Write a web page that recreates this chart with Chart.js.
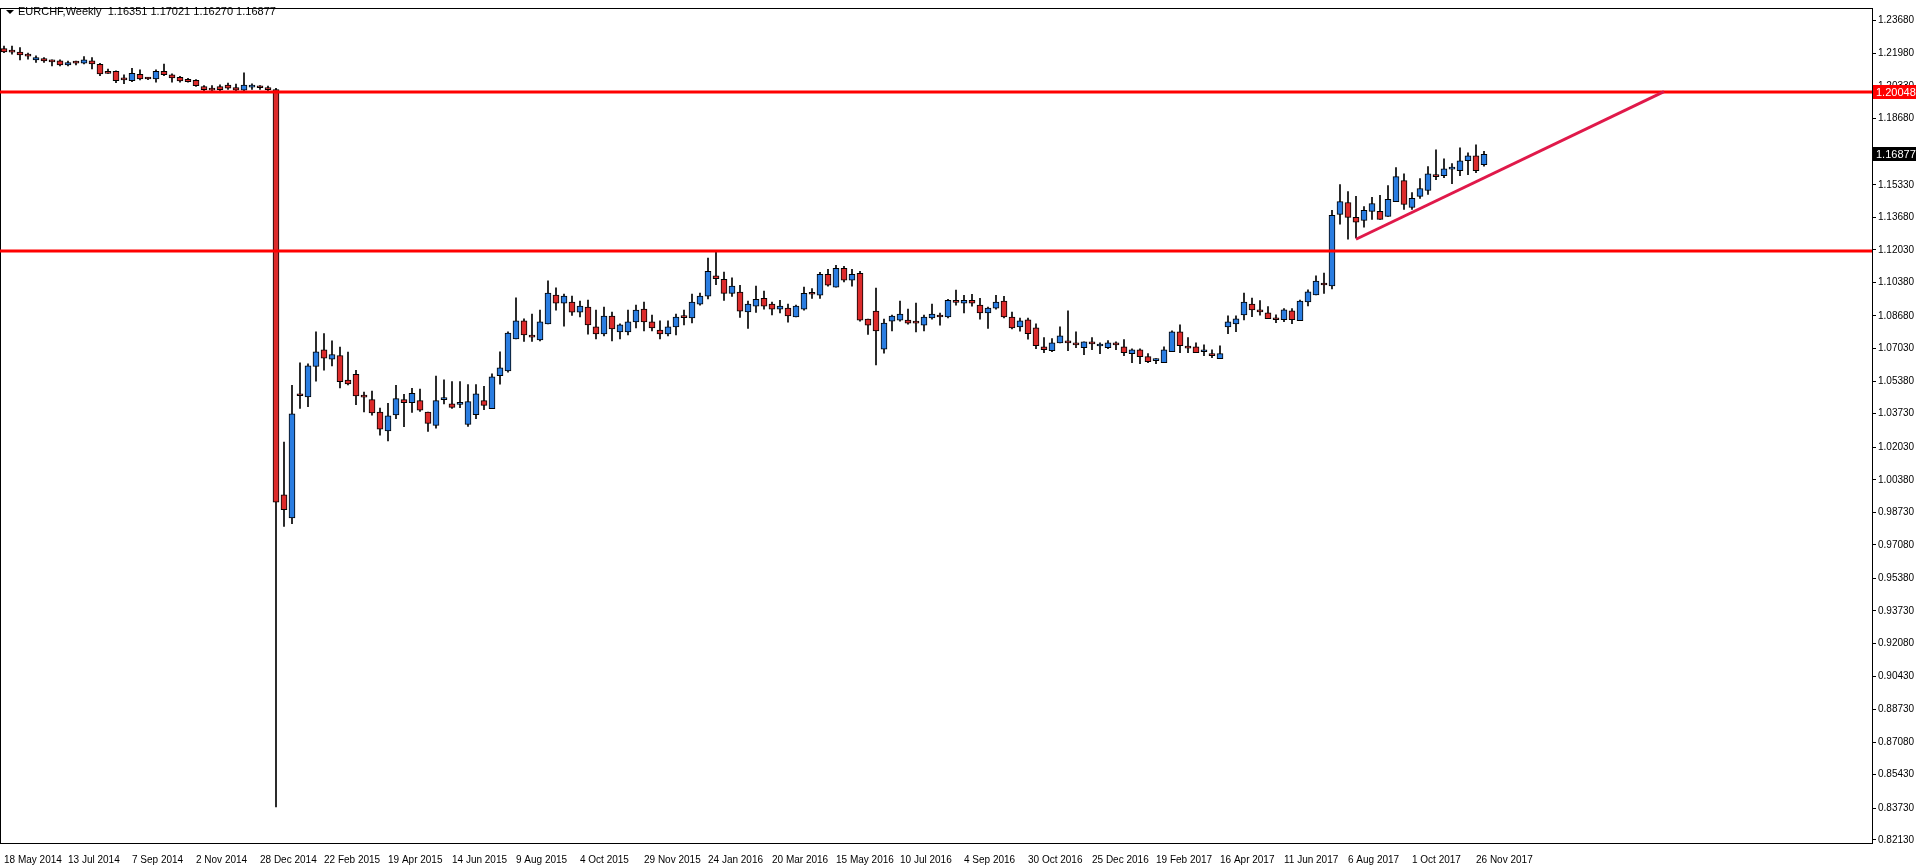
<!DOCTYPE html>
<html>
<head>
<meta charset="utf-8">
<script src="https://cdn.jsdelivr.net/npm/chart.js@4"></script>
<style>
  html, body { margin: 0; padding: 0; background: #fff; }
  #wrap { width: 1916px; height: 866px; position: relative; }
</style>
</head>
<body>
<div id="wrap"><canvas id="myChart"></canvas></div>
<script>
// weekly EURCHF candles, 18 May 2014 .. 3 Dec 2017
const opens = [
  1.2223,1.2206,1.2206,1.2186,1.2166,1.2173,1.2161,1.2161,1.2141,1.2151,
  1.2150,1.2161,1.2143,1.2100,1.2108,1.2066,1.2061,1.2093,1.2070,1.2070,
  1.2108,1.2090,1.2078,1.2068,1.2063,1.2031,1.2021,1.2031,1.2038,1.2026,
  1.2013,1.2028,1.2026,1.2023,1.2015,0.9962,0.9844,1.0466,1.0458,1.0612,
  1.0697,1.0649,1.0668,1.0543,1.0572,1.0458,1.0444,1.0381,1.0285,1.0367,
  1.0444,1.0429,1.0439,1.0381,1.0314,1.0444,1.0423,1.0420,1.0318,1.0368,
  1.0439,1.0398,1.0566,1.0590,1.0752,1.0843,1.0762,1.0747,1.0828,1.0974,
  1.0933,1.0938,1.0888,1.0913,1.0813,1.0777,1.0868,1.0787,1.0787,1.0838,
  1.0903,1.0838,1.0797,1.0777,1.0813,1.0861,1.0858,1.0928,1.0969,1.1071,
  1.1054,1.0983,1.0989,1.0889,1.0918,1.0958,1.0928,1.0903,1.0908,1.0863,
  1.0903,1.0979,1.0973,1.1079,1.1014,1.1109,1.1049,1.1084,1.0852,1.0893,
  1.0700,1.0842,1.0847,1.0847,1.0833,1.0822,1.0858,1.0873,1.0863,1.0938,
  1.0933,1.0948,1.0923,1.0883,1.0908,1.0943,1.0863,1.0813,1.0848,1.0808,
  1.0712,1.0692,1.0732,1.0733,1.0723,1.0707,1.0728,1.0716,1.0707,1.0723,
  1.0712,1.0677,1.0697,1.0662,1.0642,1.0632,1.0687,1.0788,1.0706,1.0712,
  1.0687,1.0677,1.0652,1.0813,1.0828,1.0874,1.0929,1.0899,1.0884,1.0859,
  1.0849,1.0894,1.0844,1.0939,1.0975,1.1035,1.1020,1.1383,1.1443,1.1368,
  1.1353,1.1398,1.1398,1.1373,1.1448,1.1554,1.1418,1.1474,1.1504,1.1584,
  1.1579,1.1612,1.1605,1.1655,1.1680,1.16351
];
const highs = [
  1.2236,1.2236,1.2228,1.2200,1.2186,1.2178,1.2166,1.2166,1.2160,1.2160,
  1.2183,1.2178,1.2148,1.2120,1.2111,1.2090,1.2123,1.2116,1.2078,1.2115,
  1.2145,1.2095,1.2083,1.2073,1.2066,1.2036,1.2036,1.2040,1.2048,1.2043,
  1.2100,1.2045,1.2036,1.2033,1.2022,1.0229,1.0516,1.0630,1.0625,1.0788,
  1.0779,1.0742,1.0711,1.0685,1.0593,1.0483,1.0488,1.0401,1.0425,1.0516,
  1.0471,1.0502,1.0497,1.0381,1.0564,1.0545,1.0536,1.0536,1.0521,1.0521,
  1.0511,1.0575,1.0687,1.0788,1.0960,1.0853,1.0878,1.0898,1.1046,1.1011,
  1.0979,1.0969,1.0944,1.0949,1.0898,1.0913,1.0888,1.0828,1.0898,1.0923,
  1.0938,1.0873,1.0843,1.0843,1.0878,1.0898,1.0979,1.0984,1.1162,1.1200,
  1.1091,1.1061,1.1024,1.0943,1.1019,1.0994,1.0938,1.0948,1.0928,1.0923,
  1.1014,1.1007,1.1089,1.1104,1.1125,1.1120,1.1104,1.1094,1.0852,1.1010,
  1.0852,1.0873,1.0943,1.0903,1.0933,1.0873,1.0928,1.0883,1.0953,1.0999,
  1.0973,1.0978,1.0958,1.0913,1.0973,1.0968,1.0888,1.0858,1.0858,1.0828,
  1.0758,1.0753,1.0813,1.0894,1.0788,1.0737,1.0758,1.0732,1.0743,1.0737,
  1.0748,1.0702,1.0702,1.0677,1.0652,1.0712,1.0793,1.0823,1.0758,1.0732,
  1.0722,1.0697,1.0717,1.0869,1.0869,1.0984,1.0959,1.0946,1.0916,1.0874,
  1.0906,1.0906,1.0949,1.1000,1.1071,1.1086,1.1403,1.1534,1.1499,1.1474,
  1.1423,1.1469,1.1479,1.1529,1.1620,1.1589,1.1494,1.1564,1.1625,1.1710,
  1.1665,1.1640,1.1720,1.1695,1.1735,1.17021
];
const lows = [
  1.2203,1.2195,1.2166,1.2170,1.2153,1.2153,1.2136,1.2136,1.2136,1.2141,
  1.2145,1.2120,1.2086,1.2098,1.2050,1.2045,1.2056,1.2065,1.2066,1.2053,
  1.2086,1.2053,1.2053,1.2053,1.2031,1.2010,1.2010,1.2010,1.2016,1.2010,
  1.2010,1.2016,1.2016,1.2010,0.8380,0.9801,0.9815,1.0400,1.0408,1.0538,
  1.0594,1.0615,1.0504,1.0519,1.0418,1.0382,1.0365,1.0264,1.0235,1.0347,
  1.0307,1.0379,1.0384,1.0283,1.0299,1.0423,1.0400,1.0403,1.0308,1.0348,
  1.0393,1.0398,1.0523,1.0583,1.0752,1.0739,1.0739,1.0742,1.0828,1.0897,
  1.0816,1.0871,1.0863,1.0776,1.0752,1.0767,1.0742,1.0752,1.0772,1.0808,
  1.0792,1.0792,1.0752,1.0767,1.0772,1.0823,1.0833,1.0923,1.0954,1.1027,
  1.0947,1.0967,1.0861,1.0805,1.0886,1.0903,1.0873,1.0883,1.0837,1.0863,
  1.0898,1.0957,1.0957,1.1019,1.1014,1.1041,1.1019,1.0842,1.0775,1.0620,
  1.0680,1.0792,1.0842,1.0827,1.0787,1.0792,1.0852,1.0822,1.0858,1.0923,
  1.0883,1.0918,1.0852,1.0805,1.0903,1.0858,1.0802,1.0791,1.0751,1.0702,
  1.0682,1.0687,1.0732,1.0692,1.0707,1.0672,1.0697,1.0677,1.0702,1.0697,
  1.0667,1.0632,1.0627,1.0632,1.0627,1.0632,1.0687,1.0682,1.0682,1.0682,
  1.0667,1.0657,1.0652,1.0778,1.0788,1.0848,1.0864,1.0872,1.0854,1.0834,
  1.0839,1.0829,1.0844,1.0919,1.0975,1.0982,1.1005,1.1333,1.1257,1.1264,
  1.1318,1.1358,1.1358,1.1373,1.1448,1.1408,1.1408,1.1464,1.1484,1.1559,
  1.1569,1.1539,1.1579,1.1584,1.1595,1.16270
];
const closes = [
  1.2206,1.2205,1.2191,1.2185,1.2178,1.2161,1.2156,1.2141,1.2153,1.2150,
  1.2166,1.2145,1.2095,1.2098,1.2061,1.2065,1.2098,1.2070,1.2069,1.2108,
  1.2091,1.2075,1.2060,1.2056,1.2035,1.2015,1.2013,1.2015,1.2023,1.2013,
  1.2038,1.2028,1.2025,1.2015,0.9924,0.9887,1.0372,1.0464,1.0615,1.0687,
  1.0654,1.0673,1.0535,1.0524,1.0463,1.0457,1.0377,1.0295,1.0362,1.0449,
  1.0429,1.0476,1.0391,1.0324,1.0439,1.0454,1.0405,1.0428,1.0434,1.0474,
  1.0415,1.0560,1.0605,1.0781,1.0843,1.0772,1.0761,1.0838,1.0984,1.0933,
  1.0969,1.0888,1.0918,1.0823,1.0777,1.0868,1.0802,1.0823,1.0838,1.0898,
  1.0838,1.0808,1.0777,1.0813,1.0863,1.0860,1.0938,1.0969,1.1095,1.1057,
  1.0983,1.1019,1.0893,1.0928,1.0953,1.0918,1.0903,1.0918,1.0868,1.0918,
  1.0983,1.0978,1.1079,1.1024,1.1109,1.1049,1.1079,1.0847,1.0822,1.0792,
  1.0832,1.0868,1.0878,1.0832,1.0832,1.0863,1.0878,1.0863,1.0948,1.0937,
  1.0948,1.0933,1.0883,1.0908,1.0938,1.0863,1.0807,1.0843,1.0778,1.0717,
  1.0697,1.0732,1.0768,1.0732,1.0722,1.0737,1.0727,1.0717,1.0732,1.0722,
  1.0682,1.0697,1.0662,1.0637,1.0643,1.0697,1.0788,1.0717,1.0705,1.0682,
  1.0688,1.0667,1.0677,1.0838,1.0853,1.0939,1.0899,1.0889,1.0854,1.0849,
  1.0899,1.0849,1.0944,1.0990,1.1045,1.1025,1.1378,1.1448,1.1368,1.1343,
  1.1403,1.1438,1.1358,1.1459,1.1574,1.1433,1.1464,1.1514,1.1589,1.1574,
  1.1614,1.1613,1.1655,1.1680,1.1605,1.16877
];

// x axis: one label every 8 weeks
const dateLabels = ['18 May 2014','13 Jul 2014','7 Sep 2014','2 Nov 2014','28 Dec 2014','22 Feb 2015',
  '19 Apr 2015','14 Jun 2015','9 Aug 2015','4 Oct 2015','29 Nov 2015','24 Jan 2016','20 Mar 2016',
  '15 May 2016','10 Jul 2016','4 Sep 2016','30 Oct 2016','25 Dec 2016','19 Feb 2017','16 Apr 2017',
  '11 Jun 2017','6 Aug 2017','1 Oct 2017','26 Nov 2017'];
const yTicks = [1.23680,1.21980,1.20330,1.18680,1.16980,1.15330,1.13680,1.12030,1.10380,1.08680,
  1.07030,1.05380,1.03730,1.02030,1.00380,0.98730,0.97080,0.95380,0.93730,0.92080,0.90430,
  0.88730,0.87080,0.85430,0.83730,0.82130];

const levels = [1.20048, 1.11964];          // horizontal lines
const trendX = [169, 207.5];                 // trend line (week index)
const trendY = [1.1257, 1.20048];
const lastPrice = 1.16877;
const SLOTS = 234;

const BLUE = '#2a7de1', RED = '#dc2b2b';
const FONT = '"Liberation Sans", Arial, sans-serif';

document.addEventListener('DOMContentLoaded', () => {
  const ctx = document.getElementById('myChart').getContext('2d');
  const labels = [];
  for (var i = 0; i < SLOTS; i++) labels.push(i);

  const wicks = lows.map((l, i) => [l, highs[i]]);
  const bodies = opens.map((o, i) => [o, closes[i]]);
  const bodyColors = opens.map((o, i) => closes[i] >= o ? BLUE : RED);

  const overlay = {
    id: 'overlay',
    afterDatasetsDraw(chart) {
      const c = chart.ctx, a = chart.chartArea;
      const xs = chart.scales.x, ys = chart.scales.y;
      c.save();
      // frame
      c.strokeStyle = '#000'; c.lineWidth = 1;
      c.strokeRect(a.left + 0.5, a.top + 0.5, a.right - a.left, a.bottom - a.top);
      // horizontal levels
      c.strokeStyle = '#ff0000'; c.lineWidth = 3;
      levels.forEach(v => {
        const y = Math.round(ys.getPixelForValue(v));
        c.beginPath(); c.moveTo(a.left, y); c.lineTo(a.right, y); c.stroke();
      });
      // trend line
      const w = xs.getPixelForValue(1) - xs.getPixelForValue(0);
      const x0 = xs.getPixelForValue(0);
      c.strokeStyle = '#e0194a'; c.lineWidth = 3;
      c.beginPath();
      c.moveTo(x0 + trendX[0] * w, ys.getPixelForValue(trendY[0]));
      c.lineTo(x0 + trendX[1] * w, ys.getPixelForValue(trendY[1]));
      c.stroke();
      // title
      c.font = '11px ' + FONT;
      c.fillStyle = '#000'; c.textBaseline = 'middle';
      c.beginPath(); c.moveTo(6, 10); c.lineTo(14, 10); c.lineTo(10, 14); c.closePath(); c.fill();
      c.fillText('EURCHF,Weekly  ' + [opens[185], highs[185], lows[185], closes[185]].map(v => v.toFixed(5)).join(' '), 18, 12);
      c.restore();
    },
    afterDraw(chart) {
      const c = chart.ctx, a = chart.chartArea, ys = chart.scales.y;
      c.save();
      c.font = '11px ' + FONT;
      c.textBaseline = 'middle';
      const tags = [[levels[0], '#ff0000'], [lastPrice, '#000000']];
      tags.forEach(t => {
        const y = Math.round(ys.getPixelForValue(t[0]));
        c.fillStyle = t[1];
        c.fillRect(a.right + 1, y - 7, 43, 14);
        c.fillStyle = '#fff';
        c.fillText(t[0].toFixed(5), a.right + 4, y + 1);
      });
      c.restore();
    }
  };

  const config = {
    type: 'bar',
    data: {
      labels: labels,
      datasets: [
        { data: wicks, backgroundColor: '#000', borderWidth: 0, barThickness: 1, grouped: false, order: 2 },
        { data: bodies, backgroundColor: bodyColors, borderColor: '#000', borderWidth: 1,
          borderSkipped: false, barThickness: 6, minBarLength: 2, grouped: false, order: 1 }
      ]
    },
    options: {
      responsive: true,
      maintainAspectRatio: false,
      animation: false,
      layout: { padding: { top: 4, left: 0, right: 0, bottom: 0 } },
      plugins: { legend: { display: false }, tooltip: { enabled: false } },
      scales: {
        x: {
          offset: true,
          grid: { display: false },
          border: { display: false },
          afterFit: s => { s.height = 23; },
          ticks: {
            autoSkip: false, maxRotation: 0, align: 'start', padding: 3,
            color: '#000', font: { family: FONT, size: 10 },
            callback: (v, i) => (i % 8 === 0 && dateLabels[i / 8]) ? dateLabels[i / 8] : ''
          }
        },
        y: {
          position: 'right',
          min: 0.8197, max: 1.2429,
          afterBuildTicks: s => { s.ticks = yTicks.map(v => ({ value: v })); },
          afterFit: s => { s.width = 44; },
          grid: { drawOnChartArea: false, tickLength: 4, color: '#000' },
          border: { display: true, color: '#000' },
          ticks: {
            padding: 2, color: '#000', font: { family: FONT, size: 10 },
            callback: v => v.toFixed(5)
          }
        }
      }
    },
    plugins: [overlay]
  };

  var chart = new Chart(ctx, config);
});
</script>
</body>
</html>
